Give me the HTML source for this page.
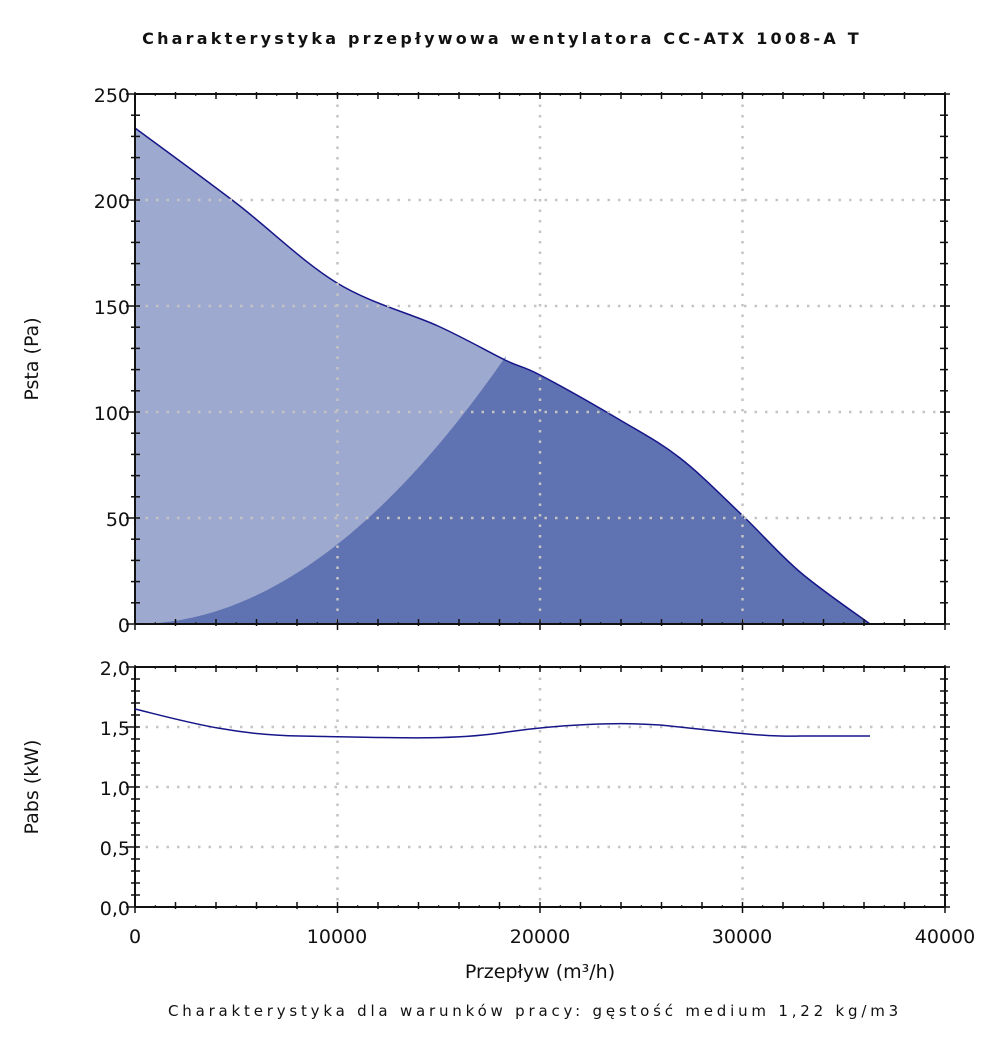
<!DOCTYPE html>
<html><head><meta charset="utf-8"><style>
body{margin:0;background:#fff;width:1000px;height:1062px;overflow:hidden}
svg{display:block}
text{font-family:"DejaVu Sans","Liberation Sans",sans-serif;fill:#111}
</style></head><body>
<svg id="s" width="1000" height="1062" xmlns="http://www.w3.org/2000/svg">
<text x="502" y="44" text-anchor="middle" font-size="16" letter-spacing="3.2" style="font-weight:600">Charakterystyka przepływowa wentylatora CC-ATX 1008-A T</text>
<path id="lt" fill="#9ea9cf"/>
<path id="dk" fill="#5f72b1"/>
<path id="ln" fill="none" stroke="#16168a" stroke-width="1.5"/>
<g id="g"></g>
<path d="M135,709 C180,720 230,735 300,736 C400,738 450,740 500,733 C560,724 620,722 660,725 C720,731 760,737 800,736 L870,736" fill="none" stroke="#16168a" stroke-width="1.5"/>
<text x="130" y="102" text-anchor="end" font-size="19">250</text>
<text x="130" y="208" text-anchor="end" font-size="19">200</text>
<text x="130" y="314" text-anchor="end" font-size="19">150</text>
<text x="130" y="420" text-anchor="end" font-size="19">100</text>
<text x="130" y="526" text-anchor="end" font-size="19">50</text>
<text x="130" y="632" text-anchor="end" font-size="19">0</text>
<text x="130" y="675" text-anchor="end" font-size="19">2,0</text>
<text x="130" y="735" text-anchor="end" font-size="19">1,5</text>
<text x="130" y="795" text-anchor="end" font-size="19">1,0</text>
<text x="130" y="855" text-anchor="end" font-size="19">0,5</text>
<text x="130" y="915" text-anchor="end" font-size="19">0,0</text>
<text x="135" y="943" text-anchor="middle" font-size="19">0</text>
<text x="337" y="943" text-anchor="middle" font-size="19">10000</text>
<text x="540" y="943" text-anchor="middle" font-size="19">20000</text>
<text x="742" y="943" text-anchor="middle" font-size="19">30000</text>
<text x="945" y="943" text-anchor="middle" font-size="19">40000</text>
<text x="540" y="978" text-anchor="middle" font-size="19">Przepływ (m³/h)</text>
<text x="0" y="0" transform="translate(38,359) rotate(-90)" text-anchor="middle" font-size="19">Psta (Pa)</text>
<text x="0" y="0" transform="translate(38,787) rotate(-90)" text-anchor="middle" font-size="19">Pabs (kW)</text>
<text x="535" y="1016" text-anchor="middle" font-size="15" letter-spacing="3.8" fill="#333">Charakterystyka dla warunków pracy: gęstość medium 1,22 kg/m3</text>
</svg>
<script>
var ns="http://www.w3.org/2000/svg",g=document.getElementById("g");
function el(t,a){var e=document.createElementNS(ns,t);for(var k in a)e.setAttribute(k,a[k]);g.appendChild(e);}
var P=[[135,128],[236,203],[337,283],[438,326],[505,360],[540,375],[620,420],[680,458],[742,515],[800,572],[870,624]];
function cr(pts){var s="";for(var i=0;i<pts.length-1;i++){var p0=pts[Math.max(i-1,0)],p1=pts[i],p2=pts[i+1],p3=pts[Math.min(i+2,pts.length-1)];
 s+="C"+(p1[0]+(p2[0]-p0[0])/6).toFixed(1)+","+(p1[1]+(p2[1]-p0[1])/6).toFixed(1)+" "+(p2[0]-(p3[0]-p1[0])/6).toFixed(1)+","+(p2[1]-(p3[1]-p1[1])/6).toFixed(1)+" "+p2[0]+","+p2[1]+" ";}return s;}
var full="M135,128 "+cr(P);
document.getElementById("lt").setAttribute("d",full+"L135,624 Z");
document.getElementById("ln").setAttribute("d",full+"L945,624");
var d="M135,624 ";for(var x=135;x<=506;x+=3){d+="L"+x+","+(624-0.001947*(x-135)*(x-135)).toFixed(1)+" ";}
d+="L506,356 L505,360 "+cr(P.slice(4))+"Z";
document.getElementById("dk").setAttribute("d",d);
var gs={stroke:"#c4c4c4","stroke-width":2.5,"stroke-dasharray":"2.5,8",fill:"none"};
function gl(x1,y1,x2,y2){var a=Object.assign({x1:x1,y1:y1,x2:x2,y2:y2},gs);el("line",a);}
[[94,624],[667,907]].forEach(function(p){
 for(var i=1;i<4;i++){var x=135+i*202.5;gl(x,p[0],x,p[1]);}
});
[200,150,100,50].forEach(function(v){var y=624-v*2.12;gl(135,y,945,y);});
[1.5,1.0,0.5].forEach(function(v){var y=907-v*120;gl(135,y,945,y);});
function L(x1,y1,x2,y2,w){el("line",{x1:x1,y1:y1,x2:x2,y2:y2,stroke:"#111","stroke-width":w||2});}
[[94,624],[667,907]].forEach(function(p){
 L(135,p[0],945,p[0]);L(135,p[1],945,p[1]);L(135,p[0],135,p[1]);L(945,p[0],945,p[1]);
 for(var i=0;i<=40;i++){var x=135+i*20.25;var maj=i%2==0;
  if(maj){L(x,p[0]-2,x,p[0]+5,1.5);L(x,p[1]-5,x,p[1]+(i%10==0?6:2),1.5);}
  else{L(x,p[0],x,p[0]+2,1);L(x,p[1]-2,x,p[1],1);}
 }
});
for(var v=0;v<=250;v+=10){var y=624-v*2.12;var big=v%50==0;L(big?126:131,y,140,y,1.5);L(940,y,big?950:948,y,1.5);}
for(var v=0;v<=20;v++){var y=907-v*12;var big=v%5==0;L(big?126:131,y,140,y,1.5);L(940,y,big?950:948,y,1.5);}
</script>
</body></html>
